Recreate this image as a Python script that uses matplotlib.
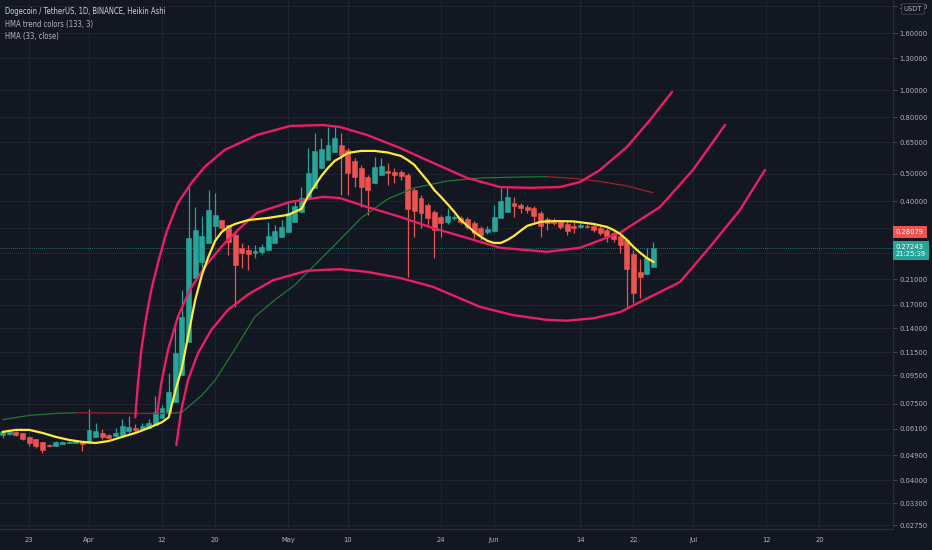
import numpy as np
import pandas as pd
import matplotlib
matplotlib.use('Agg')
import matplotlib.pyplot as plt
import matplotlib.dates as mdates
from matplotlib import transforms, font_manager
from matplotlib.collections import LineCollection
from matplotlib.ticker import FixedLocator, FixedFormatter, NullLocator

BG = '#131722'
GRID = '#1f2330'
TEXT = '#b2b5be'
GREEN = '#26a69a'
RED = '#ef5350'
PINK = '#e91e63'
YELLOW = '#ffeb3b'

# --- Heikin Ashi candles, one per day from 2021-03-19 ---
first_day = '2021-03-19'
opens = [.0580, .0585, .0595, .0590, .0571, .0561, .0548, .0534, .0530, .0539, .0543, .0543, .0548,
         .0543, .0571, .0590, .0580, .0575, .0580, .0600, .0615, .0610, .0615, .0630, .0668, .0701,
         .0762, .0952, .1250, .2120, .2420, .2830, .3260, .3420, .3280, .3030, .2720, .2670, .2610,
         .2630, .2670, .2830, .2980,
         .3100, .3370, .3660, .4100, .4460, .5260, .5610, .6000, .6350, .6100, .5570, .5260, .4880,
         .4640, .4960, .5130, .5080, .5080, .4960, .4380, .4100, .3870, .3660, .3510, .3370, .3480,
         .3480, .3450, .3340, .3200, .3100,
         .3130, .3480, .3660, .3940, .3870, .3810, .3780, .3630, .3450, .3420, .3370, .3310, .3260,
         .3230, .3260, .3260, .3200, .3150, .3080, .3000, .2900, .2580, .2230, .2190, .2320]
highs = [.0600, .0600, .0600, .0590, .0575, .0561, .0548, .0539, .0552, .0552, .0552, .0557, .0548,
         .0719, .0641, .0610, .0585, .0615, .0662, .0679, .0635, .0641, .0662, .0800, .0743, .0967,
         .1460, .1920, .4490, .3810, .3540, .4380, .4280, .3420, .3280, .3100, .2830, .2780, .2780,
         .2810, .3370, .3280, .3420,
         .3940, .4030, .4490, .6200, .7010, .6730, .7370, .7420, .7010, .6200, .5710, .5390, .4960,
         .5750, .5710, .5480, .5260, .5170, .5040, .4460, .4200, .3940, .3720, .3570, .3780, .3570,
         .3540, .3510, .3390, .3260, .3260,
         .3870, .4460, .4460, .4140, .3940, .3870, .3840, .3690, .3510, .3480, .3420, .3370, .3370,
         .3340, .3310, .3310, .3260, .3200, .3130, .3050, .2950, .2670, .2480, .2720, .2850]
lows = [.0566, .0580, .0575, .0557, .0530, .0521, .0500, .0525, .0530, .0539, .0543, .0543, .0508,
        .0543, .0571, .0561, .0561, .0575, .0580, .0590, .0590, .0610, .0615, .0630, .0668, .0701,
        .0762, .0952, .1250, .2120, .2260, .2830, .2900, .3150, .2560, .1670, .2300, .2260, .2500,
        .2580, .2670, .2830, .2980,
        .3100, .3370, .3660, .4100, .4460, .5260, .5610, .6000, .4200, .4200, .4490, .3810, .3570,
        .4640, .4960, .4570, .4640, .4760, .2140, .2980, .3200, .3280, .2500, .2980, .3310, .3420,
        .3310, .3180, .2950, .2900, .3050,
        .3100, .3480, .3660, .3510, .3630, .3630, .3370, .2980, .3150, .3280, .3180, .3030, .3080,
        .3200, .3200, .3100, .3030, .2850, .2850, .2610, .1670, .1720, .1790, .2190, .2320]
closes = [.0595, .0595, .0580, .0561, .0543, .0530, .0513, .0530, .0548, .0548, .0548, .0552, .0539,
          .0605, .0600, .0571, .0566, .0590, .0625, .0620, .0605, .0625, .0641, .0701, .0725, .0827,
          .1140, .1536, .2950, .3150, .3000, .3720, .3570, .3200, .2850, .2360, .2610, .2580, .2650,
          .2740, .3000, .3130, .3230,
          .3630, .3840, .4100, .5040, .6050, .6150, .6350, .6730, .5850, .5040, .4880, .4490, .4380,
          .5300, .5340, .5040, .4960, .4920, .3750, .3690, .3630, .3480, .3150, .3340, .3540, .3510,
          .3370, .3230, .3080, .3030, .3180,
          .3510, .4000, .4140, .3840, .3780, .3720, .3540, .3260, .3340, .3340, .3230, .3130, .3200,
          .3280, .3230, .3150, .3080, .3000, .2930, .2780, .2280, .1870, .2140, .2500, .2724]

# --- HMA (33, close), yellow ---
hma33_dates = ['2021-03-19', '2021-03-21', '2021-03-23', '2021-03-25', '2021-03-27', '2021-03-29',
               '2021-03-31', '2021-04-02', '2021-04-04', '2021-04-06', '2021-04-08', '2021-04-10',
               '2021-04-11', '2021-04-12', '2021-04-13', '2021-04-14', '2021-04-15', '2021-04-16',
               '2021-04-17', '2021-04-18', '2021-04-19', '2021-04-20', '2021-04-21', '2021-04-22',
               '2021-04-23', '2021-04-25', '2021-04-28', '2021-05-01', '2021-05-03', '2021-05-04',
               '2021-05-05', '2021-05-06', '2021-05-07', '2021-05-08', '2021-05-09', '2021-05-10',
               '2021-05-12', '2021-05-14', '2021-05-16', '2021-05-18', '2021-05-19', '2021-05-20',
               '2021-05-21', '2021-05-22', '2021-05-23', '2021-05-24', '2021-05-25', '2021-05-26',
               '2021-05-27', '2021-05-28', '2021-05-29', '2021-05-30', '2021-05-31', '2021-06-01',
               '2021-06-02', '2021-06-03', '2021-06-04', '2021-06-05', '2021-06-06', '2021-06-08',
               '2021-06-10', '2021-06-13', '2021-06-16', '2021-06-18', '2021-06-19', '2021-06-20',
               '2021-06-21', '2021-06-22', '2021-06-23', '2021-06-24', '2021-06-25']
hma33_vals = [.0595, .0605, .0605, .0590, .0571, .0557, .0548, .0543, .0552, .0571, .0590, .0615,
              .0630, .0645, .0671, .0834, .101, .134, .177, .217, .253, .288, .310, .323,
              .331, .342, .348, .357, .375, .417, .453, .492, .526, .557, .575, .595,
              .605, .605, .597, .580, .561, .539, .504, .472, .438, .414, .390, .366,
              .342, .326, .310, .298, .288, .283, .283, .290, .300, .313, .326, .337,
              .339, .338, .331, .323, .315, .305, .290, .274, .261, .250, .242]

# --- HMA trend colors (133, 3) ---
hma133_dates = ['2021-03-19', '2021-03-23', '2021-03-27', '2021-03-30', '2021-04-05', '2021-04-10',
                '2021-04-13', '2021-04-15', '2021-04-18', '2021-04-20', '2021-04-23', '2021-04-26',
                '2021-04-29', '2021-05-02', '2021-05-05', '2021-05-08', '2021-05-12', '2021-05-16',
                '2021-05-20', '2021-05-25', '2021-05-30', '2021-06-04', '2021-06-09', '2021-06-13',
                '2021-06-17', '2021-06-21', '2021-06-25']
hma133_vals = [.0658, .0682, .0693, .0697, .0695, .0693, .0692, .0700, .0805, .0912, .118, .154,
               .177, .200, .236, .278, .348, .407, .446, .472, .484, .487, .489, .482,
               .470, .453, .428]

# --- regression bands, x in days after 2021-04-01 ---
band_origin = '2021-04-01'
upper_days = [6.97, 7.38, 7.88, 8.63, 9.38, 10.39, 11.64, 13.4, 15.41, 17.42, 20.44, 25.3, 30.27,
              35.24, 37.8, 41.87, 46.84, 51.81, 56.93, 61.9, 66.42, 70.93, 73.95, 76.96, 81.02,
              84.49, 87.8]
upper_vals = [.0671, .0892, .117, .154, .192, .240, .308, .394, .464, .530, .610, .690, .743,
              .749, .737, .690, .620, .548, .484, .449, .446, .449, .468, .517, .625,
              .781, .984]
middle_days = [10.29, 10.89, 11.9, 13.4, 15.17, 17.42, 19.92, 22.44, 25.3, 30.27, 35.24, 37.8,
               41.87, 46.84, 51.81, 56.93, 61.9, 68.98, 73.95, 79.97, 86.0, 90.96, 95.78]
middle_vals = [.0697, .0892, .117, .154, .192, .232, .274, .315, .363, .397, .414, .410,
               .381, .351, .320, .295, .272, .263, .272, .308, .381, .517, .749]
lower_days = [13.15, 13.9, 14.91, 16.42, 18.42, 20.93, 23.95, 27.71, 32.83, 37.8, 41.87, 46.84,
              51.81, 58.89, 63.86, 68.98, 72.0, 76.0, 80.0, 84.04, 89.0, 93.52, 98.04, 101.8]
lower_vals = [.0534, .0713, .0913, .114, .138, .163, .185, .208, .225, .228, .223, .212,
              .197, .167, .156, .150, .149, .152, .160, .179, .205, .274, .372, .517]

price_ticks = [2.0, 1.6, 1.3, 1.0, 0.8, 0.65, 0.5, 0.4, 0.32, 0.26, 0.21, 0.17, 0.14, 0.115,
               0.095, 0.075, 0.061, 0.049, 0.04, 0.033, 0.0275]
date_ticks = ['2021-03-23', '2021-04-01', '2021-04-12', '2021-04-20', '2021-05-01', '2021-05-10',
              '2021-05-24', '2021-06-01', '2021-06-14', '2021-06-22', '2021-07-01', '2021-07-12',
              '2021-07-20']
date_labels = ['23', 'Apr', '12', '20', 'May', '10', '24', 'Jun', '14', '22', 'Jul', '12', '20']

last_price = 0.27243
hma_label = 0.28079
legend_lines = ['Dogecoin / TetherUS, 1D, BINANCE, Heikin Ashi',
                'HMA trend colors (133, 3)',
                'HMA (33, close)']

# pick a narrow face if there is one
names = {f.name for f in font_manager.fontManager.ttflist}
condensed = [f for f in font_manager.fontManager.ttflist
             if f.name == 'DejaVu Sans' and 'ondensed' in f.fname]
if 'Liberation Sans Narrow' in names:
    FAM, STRETCH = 'Liberation Sans Narrow', 'normal'
elif condensed:
    FAM, STRETCH = 'DejaVu Sans', 'condensed'
else:
    FAM, STRETCH = 'DejaVu Sans', 'normal'
plt.rcParams['font.family'] = [FAM, 'DejaVu Sans']
plt.rcParams['font.stretch'] = STRETCH

W, H = 932, 550
fig = plt.figure(figsize=(W / 100, H / 100), dpi=100, facecolor=BG)
renderer = fig.canvas.get_renderer()


def fit(s, px):
    t = fig.text(0, 0, s, fontsize=10)
    w = t.get_window_extent(renderer).width
    t.remove()
    return 10 * px / w


FS = fit('0.65000', 28)
FS_LEG = fit(legend_lines[0], 163)

ax = fig.add_axes([0, 21 / H, 893 / W, 529 / H], facecolor=BG)
ax.set_yscale('log')

origin = mdates.date2num(pd.Timestamp(band_origin))
ax.set_xlim(origin - 13.40, origin + 121.08)
ax.set_ylim(0.02670, 2.102)

# candles
o = np.array(opens); h = np.array(highs); l = np.array(lows); c = np.array(closes)
days = mdates.date2num(pd.date_range(first_day, periods=len(o), freq='D'))
col = np.where(c >= o, GREEN, RED)
ax.vlines(days, l, h, colors=col, lw=0.9, zorder=3)
bot = np.minimum(o, c); top = np.maximum(o, c)
ax.bar(days, top - bot, bottom=bot, width=0.74, color=col, edgecolor=col, lw=0.4, zorder=4)

# long HMA coloured by direction
xs = mdates.date2num(pd.to_datetime(hma133_dates))
ys = np.array(hma133_vals)
segs = [[(xs[i], ys[i]), (xs[i + 1], ys[i + 1])] for i in range(len(xs) - 1)]
seg_col = ['#1e7b34' if ys[i + 1] >= ys[i] else '#a61f24' for i in range(len(xs) - 1)]
ax.add_collection(LineCollection(segs, colors=seg_col, linewidths=0.9, zorder=5))

# bands
for d, v in [(upper_days, upper_vals), (middle_days, middle_vals), (lower_days, lower_vals)]:
    ax.plot(origin + np.array(d), v, color=PINK, lw=1.7, zorder=6, solid_capstyle='round')

ax.plot(mdates.date2num(pd.to_datetime(hma33_dates)), hma33_vals, color=YELLOW, lw=1.6, zorder=7)

ax.axhline(last_price, color=GREEN, lw=0.6, ls=(0, (1, 1.5)), alpha=0.8, zorder=2)

# axes styling
ax.yaxis.tick_right()
ax.yaxis.set_major_locator(FixedLocator(price_ticks))
ax.yaxis.set_major_formatter(FixedFormatter(['%.5f' % v for v in price_ticks]))
ax.yaxis.set_minor_locator(NullLocator())
ax.xaxis.set_major_locator(FixedLocator(mdates.date2num(pd.to_datetime(date_ticks))))
ax.xaxis.set_major_formatter(FixedFormatter(date_labels))
ax.xaxis.set_minor_locator(NullLocator())
ax.tick_params(axis='y', colors='#50535e', labelcolor=TEXT, labelsize=FS, length=3, width=0.6, pad=1.5)
ax.tick_params(axis='x', colors=TEXT, labelsize=FS, length=0, pad=5.5)
ax.grid(True, color=GRID, lw=0.8, zorder=0)
for s in ['top', 'left']:
    ax.spines[s].set_visible(False)
for s in ['right', 'bottom']:
    ax.spines[s].set_color('#2a2e39')
    ax.spines[s].set_linewidth(0.8)

# price labels on the scale
blend = transforms.blended_transform_factory(ax.transAxes, ax.transData)
ax.text(1.0, last_price, '0.27243\n21:25:39',
        transform=transforms.offset_copy(blend, fig, x=3, y=-3, units='dots'),
        ha='left', va='center', fontsize=FS, color='white', linespacing=1.3, zorder=10, clip_on=False,
        bbox=dict(boxstyle='square,pad=0.4', fc=GREEN, ec='none'))
ax.text(1.0, hma_label, '0.28079', transform=transforms.offset_copy(blend, fig, x=3, y=12, units='dots'),
        ha='left', va='center', fontsize=FS, color='white', zorder=10, clip_on=False,
        bbox=dict(boxstyle='square,pad=0.35', fc=RED, ec='none'))
fig.text(913 / W, 1 - 9 / H, 'USDT', ha='center', va='center', fontsize=FS, color=TEXT,
         bbox=dict(boxstyle='round,pad=0.3,rounding_size=0.2', fc=BG, ec='#434651', lw=0.6))

# legend block
for i, line in enumerate(legend_lines):
    fig.text(5 / W, 1 - (11 + 13 * i) / H, line, ha='left', va='center', fontsize=FS_LEG,
             color='#d1d4dc' if i == 0 else TEXT)

fig.savefig('out.png', dpi=100, facecolor=BG)
